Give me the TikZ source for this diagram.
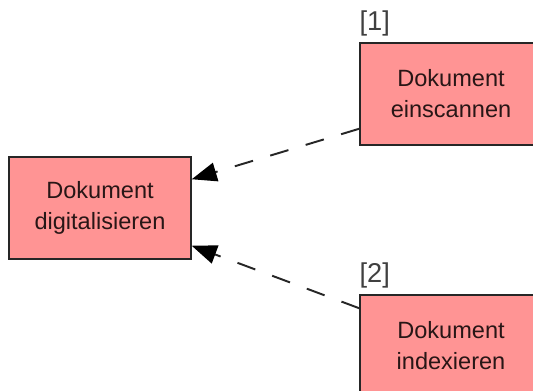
\documentclass[tikz,border=0pt]{standalone}
\usepackage{fontspec}
\setmainfont{Liberation Sans}
\usepackage{xcolor}
\usetikzlibrary{positioning,arrows.meta,calc}
\definecolor{taskcolor}{RGB}{255, 148, 148}
\definecolor{textcolor}{RGB}{40, 22, 22}
\tikzset{
    task box/.style={rectangle, draw=black!85, line width=0.85pt, fill=taskcolor,
        minimum width=3.64cm, minimum height=2.04cm, inner sep=0pt,
        align=center, text=textcolor, font=\fontsize{13.4}{17.6}\selectfont},
    step label/.style={inner sep=0pt, text=black!75, font=\fontsize{15.5}{18}\selectfont},
    depends/.style={-{Triangle[length=0.5cm, width=0.38cm, color=black]}, line width=1.1pt,
        black!85, dash pattern=on 0.38cm off 0.36cm}
}
\begin{document}
\begin{tikzpicture}[x=0.02cm, y=-0.02cm]
    % frame of the picture (the right boxes run off the edge)
    \useasboundingbox[fill=white] (0,0) rectangle (533,391);
    \clip (0,0) rectangle (533,391);

    % tasks
    \node[task box] (digit) at (100,208) {Dokument\\digitalisieren};
    \node[task box] (scan) at (451,94) {Dokument\\einscannen};
    \node[task box] (index) at (451,346) {Dokument\\indexieren};

    % step numbers
    \node[step label, anchor=south west, yshift=0.12cm] (tag1) at (scan.north west) {[1]};
    \node[step label, anchor=south west, yshift=0.12cm] (tag2) at (index.north west) {[2]};

    % dependencies
    \draw[depends] ([yshift=0.34cm]scan.south west) -- ([yshift=-0.46cm]digit.north east);
    \draw[depends] ([yshift=-0.28cm]index.north west) -- ([yshift=0.28cm]digit.south east);
\end{tikzpicture}
\end{document}
